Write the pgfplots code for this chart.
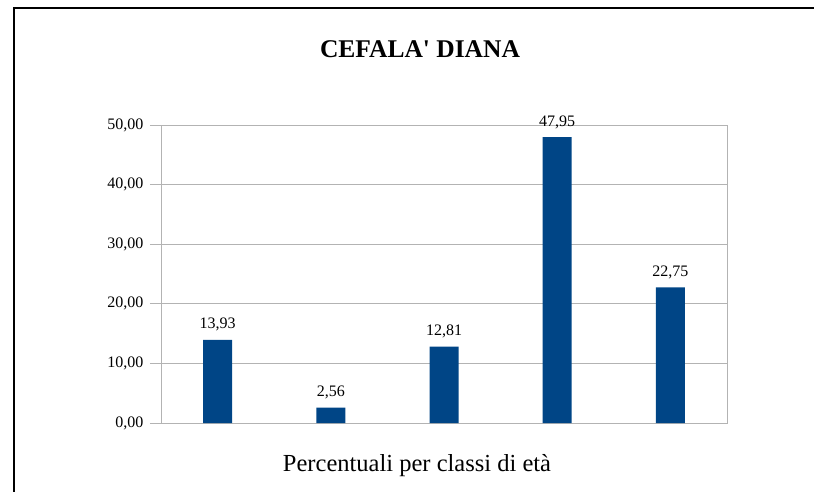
\documentclass[border=0pt]{standalone}
\usepackage{pgfplots}
\pgfplotsset{compat=1.18}
\usepackage{fontspec}
\setmainfont{Liberation Serif}[Ligatures=TeXOff]
\definecolor{barblue}{HTML}{004586}
\definecolor{axgray}{HTML}{B3B3B3}
\begin{document}
\begin{tikzpicture}
\useasboundingbox (0,0) rectangle (814bp,-492bp);
\draw[line width=1.3bp] (814bp,-8bp) -- (14bp,-8bp) -- (14bp,-492bp);
\node[anchor=base,font=\fontsize{25.5bp}{30bp}\selectfont\bfseries] at (420bp,-57.7bp) {CEFALA' DIANA};
\node[anchor=base,font=\fontsize{24.5bp}{29bp}\selectfont] at (417bp,-471.7bp) {Percentuali per classi di età};
\begin{axis}[
  at={(161bp,-423bp)}, anchor=south west,
  scale only axis, width=566bp, height=298bp,
  ybar, bar width=29bp,
  xmin=-0.5, xmax=4.5, ymin=0, ymax=50,
  xtick=\empty,
  ytick={0,10,20,30,40,50},
  ytick pos=left,
  ymajorgrids, grid style={axgray, line width=0.8bp},
  axis line style={axgray, line width=1bp},
  tick align=outside, major tick length=11bp,
  ytick style={axgray, line width=0.8bp},
  tick label style={font=\fontsize{16bp}{19bp}\selectfont},
  yticklabel style={xshift=-3bp},
  /pgf/number format/assume math mode=true,
  yticklabel style={/pgf/number format/.cd, fixed, fixed zerofill, precision=2, use comma},
  nodes near coords,
  every node near coord/.append style={font=\fontsize{16bp}{19bp}\selectfont, anchor=base, inner sep=0pt, yshift=11bp,
    /pgf/number format/.cd, fixed, fixed zerofill, precision=2, use comma, assume math mode=true},
  clip=false,
]
\addplot[fill=barblue, draw=none] coordinates {(0,13.93) (1,2.56) (2,12.81) (3,47.95) (4,22.75)};
\end{axis}
\end{tikzpicture}
\end{document}
